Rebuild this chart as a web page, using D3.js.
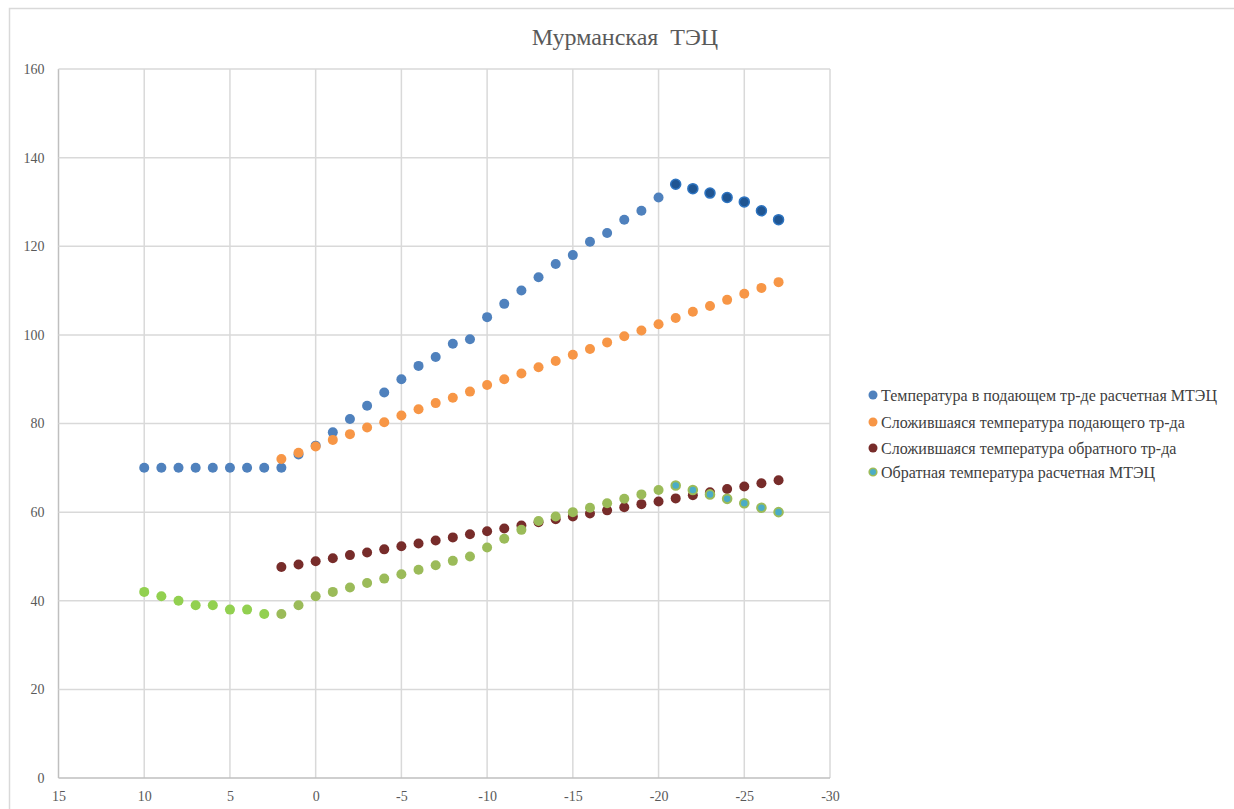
<!DOCTYPE html>
<html><head><meta charset="utf-8">
<script src="https://cdn.jsdelivr.net/npm/d3@7"></script>
<style>body{margin:0;background:#fff}svg{display:block}
svg text{font-family:"Liberation Serif","DejaVu Serif","Times New Roman",serif !important;}</style>
</head><body><svg id="c" width="1234" height="809"></svg>
<script>
const title = "Мурманская  ТЭЦ";
const seriesNames = [
  "Температура в подающем тр-де расчетная МТЭЦ",
  "Сложившаяся температура подающего тр-да",
  "Сложившаяся температура обратного тр-да",
  "Обратная температура расчетная МТЭЦ"
];
const calcX = [10,9,8,7,6,5,4,3,2,1,0,-1,-2,-3,-4,-5,-6,-7,-8,-9,-10,-11,-12,-13,-14,-15,-16,-17,-18,-19,-20,-21,-22,-23,-24,-25,-26,-27];
const supplyCalc = [70,70,70,70,70,70,70,70,70,73,75,78,81,84,87,90,93,95,98,99,104,107,110,113,116,118,121,123,126,128,131,134,133,132,131,130,128,126];
const returnCalc = [42,41,40,39,39,38,38,37,37,39,41,42,43,44,45,46,47,48,49,50,52,54,56,58,59,60,61,62,63,64,65,66,65,64,63,62,61,60];
const actualX = [2,1,0,-1,-2,-3,-4,-5,-6,-7,-8,-9,-10,-11,-12,-13,-14,-15,-16,-17,-18,-19,-20,-21,-22,-23,-24,-25,-26,-27];
const supplyActual = [72.0,73.4,74.8,76.3,77.6,79.1,80.3,81.8,83.2,84.6,85.8,87.2,88.7,90.0,91.3,92.7,94.1,95.5,96.8,98.3,99.7,101.0,102.4,103.8,105.2,106.5,107.9,109.3,110.6,111.9];
const returnActual = [47.6,48.2,48.9,49.6,50.3,50.9,51.6,52.3,52.9,53.6,54.3,55.0,55.7,56.3,57.0,57.7,58.4,59.0,59.7,60.4,61.1,61.8,62.4,63.1,63.8,64.5,65.2,65.8,66.5,67.2];
const xTicks = [15,10,5,0,-5,-10,-15,-20,-25,-30];
const yTicks = [0,20,40,60,80,100,120,140,160];

const svg = d3.select("#c");
const x = d3.scaleLinear().domain([15,-30]).range([58.5,830]);
const y = d3.scaleLinear().domain([0,160]).range([778,69]);

// chart border
svg.append("rect").attr("x",9.5).attr("y",8.5).attr("width",1400).attr("height",900)
  .attr("fill","none").attr("stroke","#d9d9d9").attr("stroke-width",1.5);

// title
svg.append("text").attr("x",625).attr("y",37).attr("text-anchor","middle")
  .attr("dominant-baseline","central").attr("font-size",24)
  .attr("fill","#595959").style("white-space","pre").text(title);

// grid
const g = svg.append("g");
g.selectAll(".vg").data(xTicks).join("line")
  .attr("x1",d=>x(d)).attr("x2",d=>x(d)).attr("y1",y(160)).attr("y2",y(0))
  .attr("stroke",d=>d===15?"#bfbfbf":"#d9d9d9").attr("stroke-width",1.5);
g.selectAll(".hg").data(yTicks).join("line")
  .attr("x1",x(15)).attr("x2",x(-30)).attr("y1",d=>y(d)).attr("y2",d=>y(d))
  .attr("stroke",d=>d===0?"#bfbfbf":"#d9d9d9").attr("stroke-width",1.5);

// axes labels via d3 axes
const fmt = d => String(d);
const xAxis = svg.append("g").attr("transform","translate(0,778)")
  .call(d3.axisBottom(x).tickValues(xTicks).tickFormat(fmt).tickSize(0).tickPadding(13));
const yAxis = svg.append("g").attr("transform","translate(58.5,0)")
  .call(d3.axisLeft(y).tickValues(yTicks).tickFormat(fmt).tickSize(0).tickPadding(14));
[xAxis,yAxis].forEach(a=>{
  a.select(".domain").remove();
  a.selectAll("text").attr("font-size",14).attr("fill","#595959");
});

const R = 5;
// series 1: supply calc
svg.append("g").selectAll("circle").data(calcX.map((d,i)=>[d,supplyCalc[i]])).join("circle")
  .attr("cx",d=>x(d[0])).attr("cy",d=>y(d[1])).attr("r",R)
  .attr("fill",d=>d[0]<=-21?"#1f5592":"#4f81bd")
  .attr("stroke",d=>d[0]<=-21?"#2e74c0":"none").attr("stroke-width",1.5);
// series 2: supply actual
svg.append("g").selectAll("circle").data(actualX.map((d,i)=>[d,supplyActual[i]])).join("circle")
  .attr("cx",d=>x(d[0])).attr("cy",d=>y(d[1])).attr("r",R).attr("fill","#f79646");
// series 3: return actual
svg.append("g").selectAll("circle").data(actualX.map((d,i)=>[d,returnActual[i]])).join("circle")
  .attr("cx",d=>x(d[0])).attr("cy",d=>y(d[1])).attr("r",R).attr("fill","#772c2a");
// series 4: return calc
svg.append("g").selectAll("circle").data(calcX.map((d,i)=>[d,returnCalc[i]])).join("circle")
  .attr("cx",d=>x(d[0])).attr("cy",d=>y(d[1])).attr("r",d=>d[0]<=-21?4.3:R)
  .attr("fill",d=>d[0]<=-21?"#4bacc6":(d[0]>=3?"#92d050":"#9bbb59"))
  .attr("stroke",d=>d[0]<=-21?"#9bbb59":"none").attr("stroke-width",2);

// legend
const legY = [395,422,448,472];
const legFill = ["#4f81bd","#f79646","#772c2a","#4bacc6"];
const legStroke = ["none","none","none","#9bbb59"];
const lg = svg.append("g");
seriesNames.forEach((n,i)=>{
  lg.append("circle").attr("cx",873).attr("cy",legY[i]).attr("r",i===3?3.8:4.5)
    .attr("fill",legFill[i]).attr("stroke",legStroke[i]).attr("stroke-width",1.6);
  lg.append("text").attr("x",881).attr("y",legY[i]).attr("dominant-baseline","central")
    .attr("font-size",16).attr("fill","#404040").text(n);
});
</script></body></html>
